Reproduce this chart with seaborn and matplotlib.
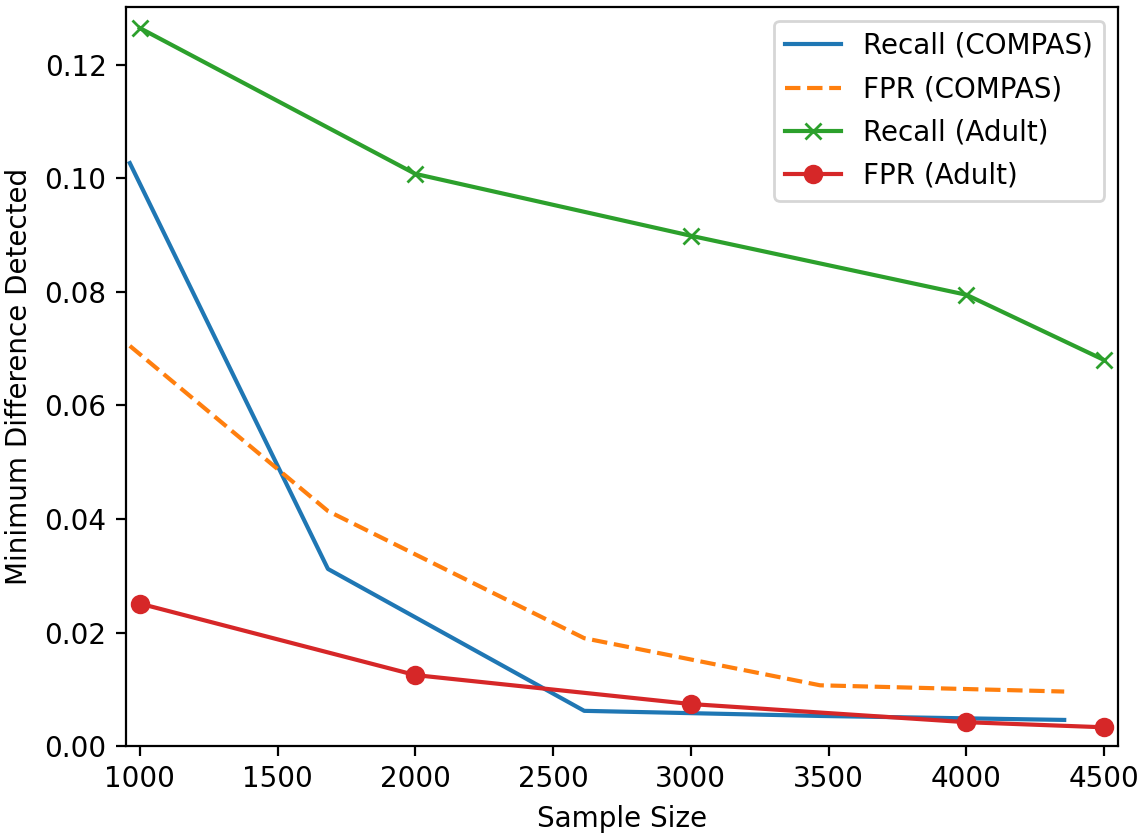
import matplotlib
matplotlib.use("Agg")
import matplotlib.pyplot as plt
import seaborn as sns

# COMPAS sample sizes
compas_sizes = [964, 1683, 2613, 3469, 4355]
recall_compas = [0.1027, 0.0312, 0.0062, 0.0053, 0.0046]
fpr_compas = [0.0705, 0.0414, 0.0190, 0.0107, 0.0096]

# Adult sample sizes
adult_sizes = [1000, 2000, 3000, 4000, 4500]
recall_adult = [0.1265, 0.1008, 0.0899, 0.0795, 0.0680]
fpr_adult = [0.0251, 0.0125, 0.0074, 0.0042, 0.0033]

DPI = 200
fig = plt.figure(figsize=(1141 / DPI, 833 / DPI), dpi=DPI)
ax = fig.add_axes([0.1104, 0.1044, 0.8694, 0.8872])

sns.lineplot(x=compas_sizes, y=recall_compas, ax=ax, color="tab:blue",
             label="Recall (COMPAS)")
sns.lineplot(x=compas_sizes, y=fpr_compas, ax=ax, color="tab:orange",
             linestyle="--", label="FPR (COMPAS)")
sns.lineplot(x=adult_sizes, y=recall_adult, ax=ax, color="tab:green",
             marker="x", markersize=6, markeredgewidth=1.0,
             markeredgecolor="tab:green", label="Recall (Adult)")
sns.lineplot(x=adult_sizes, y=fpr_adult, ax=ax, color="tab:red",
             marker="o", markersize=6, markeredgewidth=1.0,
             markeredgecolor="tab:red", label="FPR (Adult)")

ax.set_xlim(950, 4550)
ax.set_ylim(0, 0.1302)
ax.set_xlabel("Sample Size")
ax.set_ylabel("Minimum Difference Detected")
ax.legend(loc="upper right", labelspacing=0.55)

fig.savefig("out.png", dpi=DPI)
